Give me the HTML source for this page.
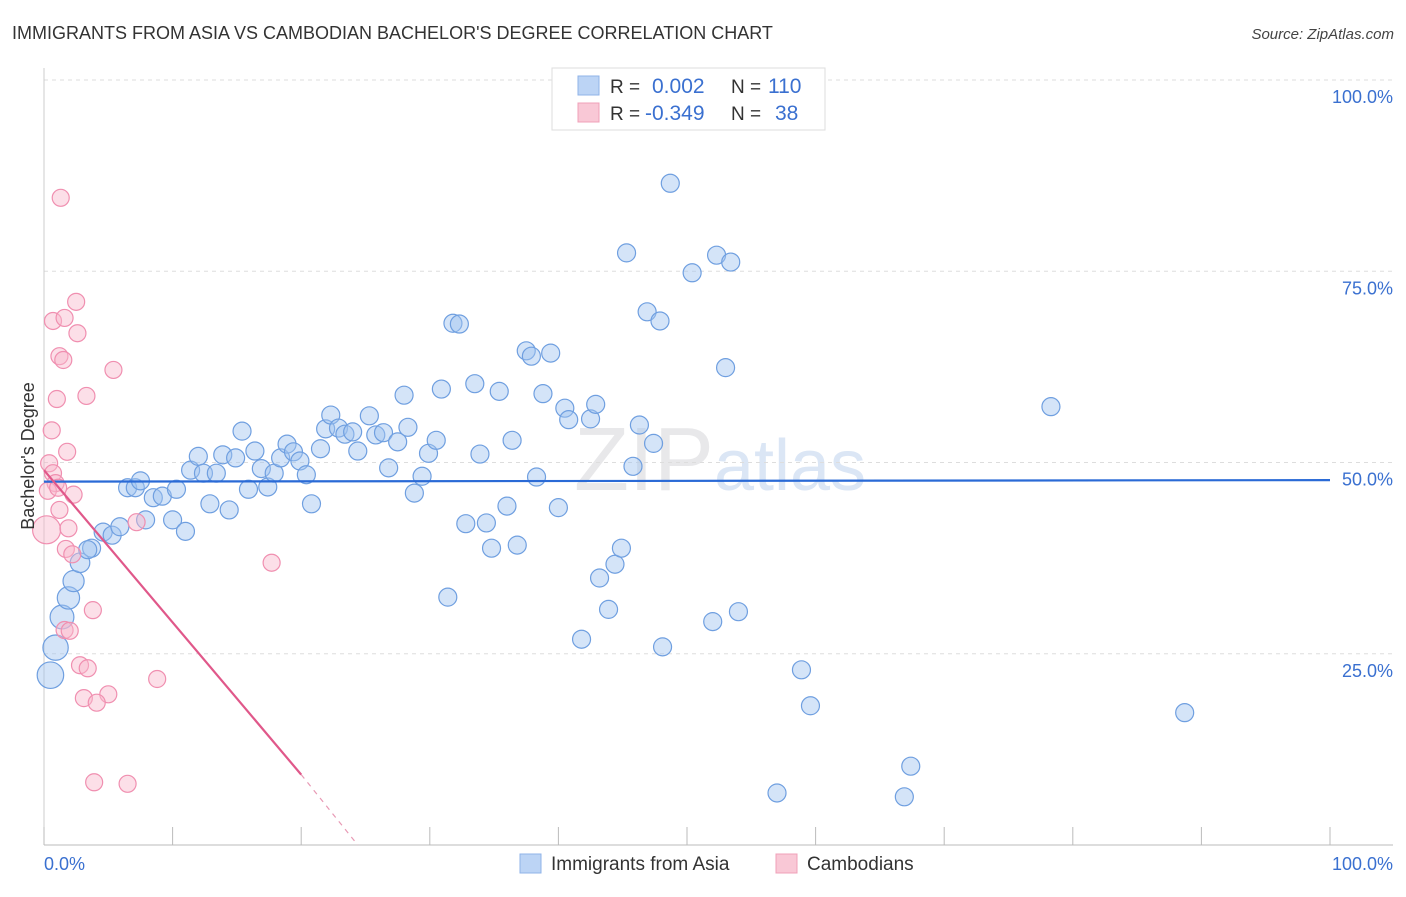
<!DOCTYPE html>
<html><head><meta charset="utf-8">
<style>
body{margin:0;background:#fff;font-family:"Liberation Sans",sans-serif;}
svg text{font-family:"Liberation Sans",sans-serif;}
</style></head>
<body>
<svg id="chart" width="1406" height="892" xmlns="http://www.w3.org/2000/svg">
<text x="12" y="39" font-size="18" fill="#333">IMMIGRANTS FROM ASIA VS CAMBODIAN BACHELOR'S DEGREE CORRELATION CHART</text>
<text x="1394" y="39" font-size="15" fill="#444" text-anchor="end" font-style="italic">Source: ZipAtlas.com</text>
<text x="720" y="490" font-size="90" fill="#e8e8ea" text-anchor="middle" font-family="Liberation Serif">ZIP<tspan fill="#dbe6f5" font-family="Liberation Sans" font-size="72">atlas</tspan></text>
<g id="grid"></g>
<g id="axes"></g>
<g id="pts"></g>
<g id="trends"></g>
<text transform="translate(34,456) rotate(-90)" font-size="18" fill="#333" text-anchor="middle">Bachelor's Degree</text>
<g>
<rect x="552" y="68" width="273" height="62" fill="#fff" stroke="#ddd"/>
<rect x="578" y="76" width="21" height="19" fill="#bcd4f5" stroke="#8fb3e8"/>
<rect x="578" y="103" width="21" height="19" fill="#f9c8d6" stroke="#f0a0b8"/>
<text x="610" y="93" font-size="19" fill="#333">R =</text>
<text x="652" y="93" font-size="21" fill="#3a70d0">0.002</text>
<text x="731" y="93" font-size="19" fill="#333">N =</text>
<text x="768" y="93" font-size="21" fill="#3a70d0">110</text>
<text x="610" y="120" font-size="19" fill="#333">R =</text>
<text x="645" y="120" font-size="21" fill="#3a70d0">-0.349</text>
<text x="731" y="120" font-size="19" fill="#333">N =</text>
<text x="775" y="120" font-size="21" fill="#3a70d0">38</text>
</g>
<g>
<rect x="520" y="854" width="21" height="19" fill="#bcd4f5" stroke="#8fb3e8"/>
<text x="551" y="870" font-size="19" fill="#333">Immigrants from Asia</text>
<rect x="776" y="854" width="21" height="19" fill="#f9c8d6" stroke="#f0a0b8"/>
<text x="807" y="870" font-size="19" fill="#333">Cambodians</text>
</g>
</svg>
<script>
const yTicks=[25,50,75,100];
const yTickLabels=["25.0%","50.0%","75.0%","100.0%"];
const xTicks=[0,10,20,30,40,50,60,70,80,90,100];
const asiaX=[0.5,0.9,1.4,1.9,2.3,2.8,3.7,3.4,4.6,5.3,5.9,6.5,7.1,7.5,7.9,8.5,9.2,10.0,10.3,11.0,11.4,12.0,12.4,12.9,13.4,13.9,14.4,14.9,15.4,15.9,16.4,16.9,17.4,17.9,18.4,18.9,19.4,19.9,20.4,20.8,21.5,21.9,22.3,22.9,23.4,24.0,24.4,25.3,25.8,26.4,26.8,27.5,28.0,28.3,28.8,29.4,29.9,30.5,30.9,31.4,31.8,32.3,32.8,33.5,33.9,34.4,34.8,35.4,36.0,36.4,36.8,37.5,37.9,38.3,38.8,39.4,40.0,40.5,40.8,41.8,42.5,42.9,43.2,43.9,44.4,44.9,45.3,45.8,46.3,46.9,47.4,47.9,48.1,48.7,50.4,52.0,52.3,53.0,53.4,54.0,57.0,58.9,59.6,66.9,67.4,78.3,88.7];
const asiaY=[22.2,25.8,29.8,32.3,34.5,36.9,38.8,38.6,40.9,40.5,41.6,46.7,46.7,47.6,42.5,45.4,45.6,42.5,46.5,41.0,49.0,50.8,48.6,44.6,48.6,51.0,43.8,50.6,54.1,46.5,51.5,49.2,46.8,48.6,50.6,52.4,51.4,50.2,48.4,44.6,51.8,54.4,56.2,54.5,53.7,54.0,51.5,56.1,53.6,53.9,49.3,52.7,58.8,54.6,46.0,48.2,51.2,52.9,59.6,32.4,68.2,68.1,42.0,60.3,51.1,42.1,38.8,59.3,44.3,52.9,39.2,64.6,63.9,48.1,59.0,64.3,44.1,57.1,55.6,26.9,55.7,57.6,34.9,30.8,36.7,38.8,77.4,49.5,54.9,69.7,52.5,68.5,25.9,86.5,74.8,29.2,77.1,62.4,76.2,30.5,6.8,22.9,18.2,6.3,10.3,57.3,17.3];
const camX=[1.3,2.5,0.7,1.6,2.6,1.2,1.5,5.4,1.0,3.3,0.6,1.8,0.4,0.7,0.9,0.3,1.1,2.3,1.2,0.2,1.9,7.2,1.7,2.2,17.7,3.8,1.6,2.0,2.8,3.4,8.8,3.1,5.0,4.1,3.9,6.5];
const camY=[84.6,71.0,68.5,68.9,66.9,63.9,63.4,62.1,58.3,58.7,54.2,51.4,49.9,48.6,47.3,46.3,46.7,45.8,43.8,41.2,41.4,42.2,38.7,38.0,36.9,30.7,28.1,28.0,23.5,23.1,21.7,19.2,19.7,18.6,8.2,8.0];
const asiaTrend=[[0,47.5],[100,47.7]];
const camTrendSolid=[[0,49.0],[20,9.2]];
const camTrendDash=[[20,9.2],[24.4,0]];

const NS="http://www.w3.org/2000/svg";
const X0=44,X1=1330,Y0=845,Y100=80;
const sx=v=>X0+(X1-X0)*v/100;
const sy=v=>Y0-(Y0-Y100)*v/100;
function mk(tag,attrs,parent){const e=document.createElementNS(NS,tag);for(const k in attrs)e.setAttribute(k,attrs[k]);parent.appendChild(e);return e;}
const grid=document.getElementById('grid'),axes=document.getElementById('axes'),pts=document.getElementById('pts'),tr=document.getElementById('trends');
yTicks.forEach((t,i)=>{
  const l=mk('line',{x1:X0,x2:1393,y1:sy(t),y2:sy(t),stroke:'#ddd','stroke-dasharray':'4,4'},grid);
  
  
  const tx=mk('text',{x:1393,y:sy(t)+23,'font-size':18,fill:'#3a70d0','text-anchor':'end'},axes);
  tx.textContent=yTickLabels[i];
  
  
});
const ax=mk('line',{x1:X0,x2:1393,y1:Y0,y2:Y0,stroke:'#bbb'},axes);


const ay=mk('line',{x1:X0,x2:X0,y1:68,y2:Y0,stroke:'#ccc'},axes);


xTicks.forEach(t=>{
  const l=mk('line',{x1:sx(t),x2:sx(t),y1:Y0,y2:Y0-18,stroke:'#bbb'},axes);
  
  
});
const xl0=mk('text',{x:44,y:870,'font-size':18,fill:'#3a70d0'},axes);xl0.textContent='0.0%';


const xl1=mk('text',{x:1393,y:870,'font-size':18,fill:'#3a70d0','text-anchor':'end'},axes);xl1.textContent='100.0%';


asiaX.forEach((v,i)=>{
  const r=v<3?(14-v*1.5):9;
  const c=mk('circle',{cx:sx(v),cy:sy(asiaY[i]),r:Math.max(r,9),fill:'rgba(160,195,240,0.45)',stroke:'#6f9fe0','stroke-width':1.2},pts);
  
  
});
camX.forEach((v,i)=>{
  const r=(v<0.3)?14:8.5;
  const c=mk('circle',{cx:sx(v),cy:sy(camY[i]),r:r,fill:'rgba(248,185,205,0.45)',stroke:'#f08fb0','stroke-width':1.2},pts);
  
  
});
const l1=mk('line',{x1:sx(asiaTrend[0][0]),y1:sy(asiaTrend[0][1]),x2:sx(asiaTrend[1][0]),y2:sy(asiaTrend[1][1]),stroke:'#2a6ad6','stroke-width':2.2},tr);


const l2=mk('line',{x1:sx(camTrendSolid[0][0]),y1:sy(camTrendSolid[0][1]),x2:sx(camTrendSolid[1][0]),y2:sy(camTrendSolid[1][1]),stroke:'#e0588a','stroke-width':2.2},tr);


const l3=mk('line',{x1:sx(camTrendDash[0][0]),y1:sy(camTrendDash[0][1]),x2:sx(camTrendDash[1][0]),y2:sy(camTrendDash[1][1]),stroke:'#e89ab5','stroke-width':1.2,'stroke-dasharray':'5,5'},tr);


</script>
</body></html>
